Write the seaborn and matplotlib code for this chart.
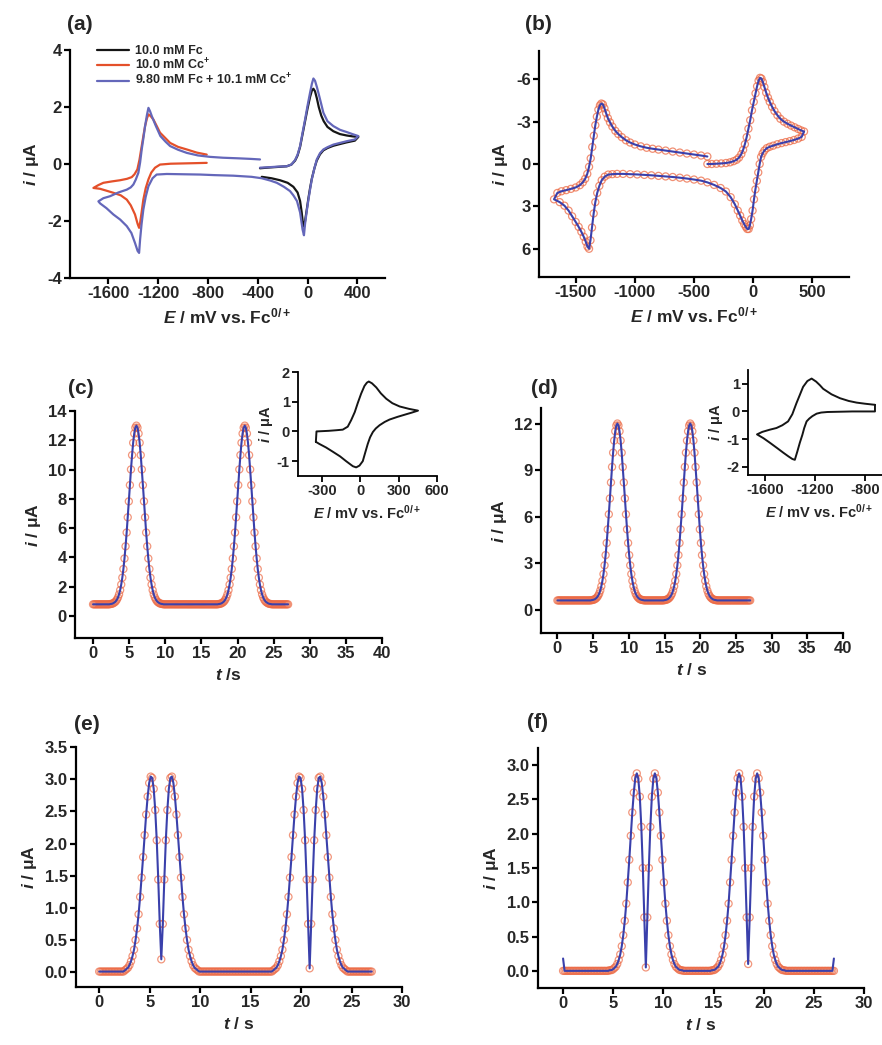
import matplotlib
matplotlib.use('Agg')
import matplotlib.pyplot as plt
import numpy as np
import seaborn as sns
from matplotlib.ticker import FormatStrFormatter

# ---------------- (a) cyclic voltammograms ----------------
fc_E = [-382, -300, -230, -167, -130, -100, -80, -60, -40, -20,
        0, 20, 35, 47, 60, 75, 90, 110, 130, 160,
        207, 260, 315, 360, 408,
        380, 315, 260, 207, 160, 127, 100, 74, 55, 34,
        20, 7, -8, -20, -28, -38, -47, -60, -80, -114,
        -160, -221, -290, -368]
fc_i = [-0.15, -0.12, -0.1, -0.08, -0.02, 0.12, 0.3, 0.6, 1.05, 1.5,
        1.95, 2.35, 2.58, 2.64, 2.55, 2.3, 2.0, 1.7, 1.5, 1.3,
        1.15, 1.05, 1.0, 0.97, 0.95,
        0.82, 0.76, 0.7, 0.64, 0.56, 0.48, 0.34, 0.12, -0.15, -0.52,
        -0.85, -1.2, -1.65, -2.0, -2.2, -2.05, -1.7, -1.3, -1.0, -0.8,
        -0.66, -0.57, -0.5, -0.45]

cc_E = [-810, -900, -1000, -1100, -1185, -1225, -1255, -1278, -1300, -1319,
        -1333, -1345, -1353, -1365, -1386, -1420, -1452, -1500, -1560, -1620,
        -1667, -1720,
        -1680, -1640, -1570, -1506, -1450, -1412, -1390, -1367, -1350, -1332,
        -1318, -1305, -1290, -1278, -1260, -1238, -1210, -1185, -1140, -1104,
        -1040, -970, -890, -810]
cc_i = [0.04, 0.03, 0.02, 0.01, -0.02, -0.13, -0.3, -0.54, -0.85, -1.25,
        -1.7, -2.07, -2.24, -2.1, -1.77, -1.45, -1.25, -1.1, -1.01, -0.93,
        -0.87, -0.84,
        -0.74, -0.66, -0.61, -0.57, -0.52, -0.46, -0.36, -0.19, 0.15, 0.63,
        1.0, 1.33, 1.6, 1.74, 1.68, 1.56, 1.32, 1.1, 0.9, 0.74,
        0.6, 0.51, 0.4, 0.33]

mix_E = [-382, -300, -230, -167, -130, -100, -80, -60, -40, -20,
         0, 20, 35, 47, 60, 75, 87, 110, 127, 160,
         207, 260, 315, 360, 408,
         380, 315, 260, 207, 160, 127, 100, 74, 55, 34,
         20, 7, -8, -20, -29, -40, -50, -60, -85, -114,
         -141, -190, -247, -300, -368,
         -450, -596, -750, -863, -1000, -1131, -1212, -1245, -1278, -1300,
         -1319, -1333, -1345, -1353, -1365, -1386, -1415, -1452, -1505, -1560,
         -1615, -1667, -1680,
         -1640, -1586, -1520, -1452, -1420, -1399, -1380, -1359, -1345, -1332,
         -1318, -1305, -1290, -1278, -1265, -1251, -1220, -1182, -1140, -1104,
         -1040, -970, -880, -783, -680, -560, -460, -382]
mix_i = [-0.13, -0.11, -0.09, -0.08, -0.02, 0.14, 0.33, 0.63, 1.1, 1.56,
         2.05, 2.5, 2.82, 3.0, 2.92, 2.7, 2.5, 2.1, 1.8, 1.5,
         1.33, 1.2, 1.12, 1.05, 0.98,
         0.86, 0.8, 0.74, 0.68, 0.59, 0.51, 0.38, 0.16, -0.15, -0.54,
         -0.9, -1.25, -1.7, -2.1, -2.5, -2.3, -2.0, -1.7, -1.3, -1.1,
         -0.95, -0.8, -0.66, -0.58, -0.5,
         -0.45, -0.41, -0.39, -0.37, -0.36, -0.35, -0.37, -0.5, -0.78, -1.15,
         -1.6, -2.1, -2.65, -3.12, -3.05, -2.77, -2.42, -2.18, -1.95, -1.77,
         -1.55, -1.38, -1.31,
         -1.2, -1.13, -1.0, -0.9, -0.82, -0.72, -0.55, -0.31, 0.05, 0.51,
         0.92, 1.33, 1.72, 1.97, 1.85, 1.68, 1.35, 0.98, 0.78, 0.63,
         0.5, 0.39, 0.3, 0.25, 0.22, 0.2, 0.18, 0.16]

# ---------------- (b) CV, fit line and data circles ----------------
b_E = [-387, -350, -310, -270, -230, -195, -165, -140, -120, -100,
       -85, -70, -55, -40, -25, -10, 5, 20, 33, 46,
       58, 70, 82, 95, 110, 125, 140, 160, 180, 205,
       230, 260, 290, 320, 350, 380, 405, 430,
       410, 380, 345, 310, 275, 240, 205, 170, 140, 115,
       95, 80, 67, 55, 43, 31, 19, 7, -5, -17,
       -28, -38, -50, -62, -76, -92, -110, -130, -155, -190,
       -230, -275, -330, -387, -440, -500, -560, -620, -680, -740,
       -800, -860, -920, -980, -1040, -1100, -1150, -1190, -1225, -1255,
       -1280, -1300, -1318, -1334, -1348, -1362, -1375, -1387, -1400, -1415,
       -1432, -1452, -1475, -1500, -1530, -1560, -1595, -1635, -1683,
       -1655, -1620, -1580, -1540, -1500, -1465, -1440, -1420, -1402, -1387,
       -1373, -1360, -1347, -1334, -1321, -1308, -1295, -1283, -1270, -1257,
       -1243, -1228, -1210, -1190, -1165, -1140, -1110, -1075, -1040, -1000,
       -950, -900, -850, -800, -740, -680, -620, -560, -500, -440,
       -387]
b_i = [0.0, 0.0, -0.02, -0.04, -0.07, -0.12, -0.2, -0.3, -0.45, -0.7,
       -1.0, -1.4, -1.9, -2.5, -3.1, -3.8, -4.4, -5.0, -5.5, -5.9,
       -6.1, -6.05, -5.8, -5.45, -5.05, -4.7, -4.4, -4.05, -3.75, -3.45,
       -3.2, -3.0, -2.85, -2.72, -2.6, -2.48, -2.38, -2.3,
       -1.92, -1.8, -1.7, -1.62, -1.55, -1.48, -1.4, -1.3, -1.22, -1.12,
       -0.95, -0.75, -0.5, 0.0, 0.6, 1.2, 1.8, 2.5, 3.3, 3.9,
       4.35, 4.6, 4.6, 4.45, 4.25, 4.0, 3.65, 3.3, 2.85, 2.35,
       1.95, 1.7, 1.48, 1.3, 1.18, 1.1, 1.03, 0.97, 0.92, 0.88,
       0.84, 0.8, 0.77, 0.74, 0.72, 0.7, 0.7, 0.72, 0.75, 0.9,
       1.15, 1.55, 2.05, 2.7, 3.5, 4.5, 5.4, 6.0, 5.85, 5.5,
       5.15, 4.8, 4.45, 4.1, 3.7, 3.3, 2.95, 2.7, 2.5,
       2.05, 1.93, 1.85, 1.76, 1.66, 1.5, 1.3, 1.05, 0.7, 0.2,
       -0.4, -1.2, -2.0, -2.75, -3.35, -3.85, -4.15, -4.28, -4.22, -3.95,
       -3.6, -3.25, -2.95, -2.65, -2.35, -2.12, -1.9, -1.68, -1.52, -1.38,
       -1.25, -1.15, -1.08, -1.02, -0.95, -0.88, -0.81, -0.74, -0.67, -0.6,
       -0.53]

# ---------------- insets ----------------
ci_E = [-350, -345, -250, -190, -139, -100, -73, -45, -21, 5,
        31, 50, 65, 90, 124, 160, 202, 250, 307, 380, 451,
        400, 360, 290, 228, 190, 150, 120, 97, 75, 57,
        38, 18, -8, -34, -60, -85, -113, -160, -218, -270, -323, -350]
ci_i = [-0.35, 0.0, 0.02, 0.04, 0.06, 0.16, 0.38, 0.65, 0.96, 1.27,
        1.53, 1.64, 1.68, 1.62, 1.48, 1.28, 1.1, 0.95, 0.84, 0.76, 0.7,
        0.63, 0.58, 0.49, 0.4, 0.32, 0.21, 0.1, -0.02, -0.2, -0.42,
        -0.7, -1.0, -1.15, -1.21, -1.17, -1.09, -1.0, -0.84, -0.68, -0.54, -0.42, -0.35]

di_E = [-720, -720, -800, -900, -1000, -1100, -1150, -1186, -1220, -1245,
        -1266, -1285, -1300, -1320, -1340, -1360, -1380, -1410, -1453, -1500,
        -1560, -1610, -1662,
        -1620, -1560, -1507, -1460, -1414, -1380, -1347, -1320, -1294, -1260,
        -1226, -1190, -1160, -1134, -1067, -1000, -930, -867, -800, -720]
di_i = [0.24, 0.0, 0.0, 0.0, -0.01, -0.02, -0.04, -0.08, -0.17, -0.26,
        -0.36, -0.6, -0.85, -1.13, -1.45, -1.75, -1.72, -1.63, -1.49, -1.33,
        -1.13, -0.97, -0.83,
        -0.74, -0.66, -0.6, -0.5, -0.36, -0.1, 0.3, 0.6, 0.89, 1.1,
        1.19, 1.08, 0.95, 0.82, 0.62, 0.48, 0.38, 0.32, 0.28, 0.24]

# ---------------- time traces (c)-(f), sampled every 0.15 s ----------------
t = np.linspace(0, 27, 181)

c_half = [0.82, 0.83, 0.85, 0.89, 0.94, 1.01, 1.12, 1.27, 1.48, 1.77,
          2.15, 2.62, 3.21, 3.93, 4.76, 5.70, 6.74, 7.83, 8.94, 10.01,
          10.99, 11.83, 12.46, 12.86]
c_peak = c_half + [13.0] + c_half[::-1]
c_i = [0.8] * 16 + c_peak + [0.8] * 51 + c_peak + [0.8] * 16

d_half = [0.62, 0.63, 0.65, 0.68, 0.73, 0.80, 0.90, 1.04, 1.24, 1.51,
          1.86, 2.30, 2.86, 3.52, 4.30, 5.18, 6.15, 7.17, 8.20, 9.20,
          10.12, 10.90, 11.50, 11.87]
d_peak = d_half + [12.0] + d_half[::-1]
d_i = [0.6] * 32 + d_peak + [0.6] * 19 + d_peak + [0.6] * 32

e_half = [0.03, 0.05, 0.07, 0.11, 0.17, 0.25, 0.35, 0.50, 0.68, 0.90,
          1.17, 1.47, 1.79, 2.13, 2.45, 2.73, 2.94, 3.04, 3.02, 2.85,
          2.52, 2.05, 1.44, 0.75]
e_i = ([0.01] * 17 + e_half + [0.2] + e_half[::-1] + [0.01] * 49
       + e_half + [0.06] + e_half[::-1] + [0.01] * 17)

f_half = [0.01, 0.01, 0.02, 0.04, 0.06, 0.10, 0.16, 0.24, 0.36, 0.52,
          0.73, 0.98, 1.29, 1.62, 1.97, 2.31, 2.60, 2.81, 2.88, 2.80,
          2.54, 2.10, 1.50, 0.78]
f_i = ([0.0] * 31 + f_half + [0.05] + f_half[::-1] + [0.0] * 19
       + f_half + [0.1] + f_half[::-1] + [0.0] * 33)
f_line = [0.18] + f_i[1:-1] + [0.18]

BLACK = '#151515'
ORANGE = '#e4502a'
LAV = '#6467ba'
BLUE = '#3a40ab'
SALMON = '#ec6a45'

sns.set_theme(style='ticks')
plt.rcParams['font.family'] = ['Liberation Sans', 'DejaVu Sans']
plt.rcParams['font.weight'] = 'bold'
plt.rcParams['axes.labelweight'] = 'bold'
plt.rcParams['axes.unicode_minus'] = False
plt.rcParams['mathtext.fontset'] = 'custom'
plt.rcParams['mathtext.rm'] = 'Liberation Sans:bold'
plt.rcParams['mathtext.it'] = 'Liberation Sans:italic:bold'
plt.rcParams['mathtext.bf'] = 'Liberation Sans:bold'

W, H = 882, 1045
fig = plt.figure(figsize=(W / 100, H / 100), dpi=100)

FS = 12      # tick labels
LFS = 12.5   # axis labels
IFS = 10.5   # inset text


def box(l, r, top, bot):
    return [l / W, 1 - bot / H, (r - l) / W, (bot - top) / H]


def style(ax, fs=FS, lw=1.6):
    sns.despine(ax=ax)
    for s in ('left', 'bottom'):
        ax.spines[s].set_linewidth(lw)
        ax.spines[s].set_color('black')
    ax.tick_params(width=lw, length=4, labelsize=fs, pad=2, color='black')
    ax.grid(False)


ELABEL = r'$E$ / mV vs. Fc$^{0/+}$'
ILABEL = r'$i$ / μA'

# (a)
ax = fig.add_axes(box(70, 385, 50, 278))
sns.lineplot(x=fc_E, y=fc_i, sort=False, estimator=None, color=BLACK, lw=1.6,
             label='10.0 mM Fc', ax=ax)
sns.lineplot(x=cc_E, y=cc_i, sort=False, estimator=None, color=ORANGE, lw=1.6,
             label=r'10.0 mM Cc$^{+}$', ax=ax)
sns.lineplot(x=mix_E, y=mix_i, sort=False, estimator=None, color=LAV, lw=1.6,
             label=r'9.80 mM Fc + 10.1 mM Cc$^{+}$', ax=ax)
ax.set_xlim(-1908, 622)
ax.set_ylim(-4, 4)
ax.set_xticks([-1600, -1200, -800, -400, 0, 400])
ax.set_yticks([-4, -2, 0, 2, 4])
ax.set_xlabel(ELABEL, fontsize=LFS)
ax.set_ylabel(ILABEL, fontsize=LFS)
ax.legend(loc='upper left', bbox_to_anchor=(0.085, 1.02), frameon=False,
          fontsize=9, handlelength=2.6, handletextpad=0.45, labelspacing=0.0,
          borderpad=0, borderaxespad=0)
style(ax)

# (b)
ax = fig.add_axes(box(539, 849, 51, 277))
sns.lineplot(x=b_E, y=b_i, sort=False, estimator=None, color=BLUE, lw=1.5, ax=ax)
sns.scatterplot(x=b_E, y=b_i, marker='o', s=26, facecolor='none',
                edgecolor=SALMON, linewidth=0.9, alpha=0.75, ax=ax)
ax.set_xlim(-1810, 810)
ax.set_ylim(8, -8)
ax.set_xticks([-1500, -1000, -500, 0, 500])
ax.set_yticks([-6, -3, 0, 3, 6])
ax.set_xlabel(ELABEL, fontsize=LFS)
ax.set_ylabel(ILABEL, fontsize=LFS)
style(ax)


def trace(rect, y_line, y_pts, xlim, ylim, xt, yt, xlabel, fmt=None):
    ax = fig.add_axes(rect)
    sns.scatterplot(x=t, y=y_pts, marker='o', s=26, facecolor='none',
                    edgecolor=SALMON, linewidth=0.9, alpha=0.7, ax=ax)
    sns.lineplot(x=t, y=y_line, sort=False, estimator=None, color=BLUE,
                 lw=1.5, ax=ax)
    ax.set_xlim(*xlim)
    ax.set_ylim(*ylim)
    ax.set_xticks(xt)
    ax.set_yticks(yt)
    if fmt:
        ax.yaxis.set_major_formatter(FormatStrFormatter(fmt))
    ax.set_xlabel(xlabel, fontsize=LFS)
    ax.set_ylabel(ILABEL, fontsize=LFS)
    style(ax)
    return ax


trace(box(75, 382, 411, 638), c_i, c_i, (-2.5, 40), (-1.5, 14),
      range(0, 41, 5), range(0, 15, 2), r'$t$ /s')
trace(box(541, 843, 408, 633), d_i, d_i, (-2.3, 40), (-1.5, 13),
      range(0, 41, 5), [0, 3, 6, 9, 12], r'$t$ / s')
trace(box(76, 402, 747, 987), e_i, e_i, (-2.3, 30), (-0.23, 3.5),
      range(0, 31, 5), np.arange(0, 3.51, 0.5), r'$t$ / s', '%.1f')
trace(box(538, 864, 748, 988), f_line, f_i, (-2.5, 30), (-0.25, 3.25),
      range(0, 31, 5), np.arange(0, 3.01, 0.5), r'$t$ / s', '%.1f')

# insets
ax = fig.add_axes(box(298, 437, 372, 476))
sns.lineplot(x=ci_E, y=ci_i, sort=False, estimator=None, color=BLACK, lw=1.4, ax=ax)
ax.set_xlim(-490, 600)
ax.set_ylim(-1.5, 2)
ax.set_xticks([-300, 0, 300, 600])
ax.set_yticks([-1, 0, 1, 2])
ax.set_xlabel(ELABEL, fontsize=IFS)
ax.set_ylabel(ILABEL, fontsize=IFS, labelpad=1)
style(ax, fs=IFS, lw=1.3)

ax = fig.add_axes(box(748, 890, 370, 475))
sns.lineplot(x=di_E, y=di_i, sort=False, estimator=None, color=BLACK, lw=1.4, ax=ax)
ax.set_xlim(-1734, -600)
ax.set_ylim(-2.3, 1.5)
ax.set_xticks([-1600, -1200, -800])
ax.set_yticks([-2, -1, 0, 1])
ax.set_xlabel(ELABEL, fontsize=IFS)
ax.set_ylabel(ILABEL, fontsize=IFS, labelpad=1)
style(ax, fs=IFS, lw=1.3)

for lab, x, y in [('(a)', 80, 24), ('(b)', 538, 24), ('(c)', 81, 389),
                  ('(d)', 544, 389), ('(e)', 87, 724), ('(f)', 538, 723)]:
    fig.text(x / W, 1 - y / H, lab, ha='center', va='center',
             fontsize=15, fontweight='bold')

fig.savefig('out.png', dpi=100)
